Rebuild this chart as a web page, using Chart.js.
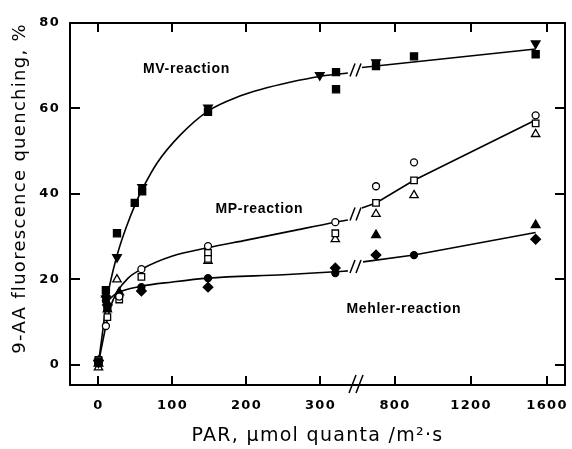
<!DOCTYPE html>
<html lang="en">
<head>
<meta charset="UTF-8">
<title>9-AA fluorescence quenching vs PAR</title>
<script src="https://cdn.jsdelivr.net/npm/chart.js@4.4.1/dist/chart.umd.min.js"></script>
<style>
  * { box-sizing: border-box; margin: 0; padding: 0; }
  body { background: #fff; }
  #chart { display: block; }
</style>
</head>
<body>
<canvas id="chart" width="572" height="449"></canvas>
<script>
// tick labels
const xTicksPAR = [0, 100, 200, 300, 800, 1200, 1600];
const yTicks = [0, 20, 40, 60, 80];

// MV-reaction (filled squares, filled down triangles)
const mvSquareX = [0, 10, 12, 25, 49, 59, 148, 321, 321, 700, 900, 1540];
const mvSquareY = [0.8, 17.5, 13.5, 30.8, 37.9, 40.6, 59.2, 68.5, 64.5, 69.9, 72.2, 72.7];
const mvTriX = [0, 10, 25, 59, 148, 299, 700, 1540];
const mvTriY = [0.5, 15.5, 25.2, 41.6, 60.2, 67.8, 70.8, 75.2];
const mvFitLeftX = [0, 5, 10, 15, 26, 37, 52, 60, 79, 110, 148, 191, 218, 260, 299, 337];
const mvFitLeftY = [0.5, 7, 13.5, 18.5, 26.2, 32, 38.5, 41.4, 47.2, 53.7, 59.4, 62.9, 64.4, 66.2, 67.5, 68.3];
const mvFitRightX = [626, 1540];
const mvFitRightY = [69.6, 73.9];

// MP-reaction (open circles, open squares, open triangles)
const mpCircleX = [0, 10, 28, 58, 148, 320, 700, 900, 1540];
const mpCircleY = [0.5, 9.1, 16.0, 22.4, 27.8, 33.4, 41.8, 47.4, 58.4];
const mpSquareX = [0, 12, 28, 58, 148, 148, 320, 700, 900, 1540];
const mpSquareY = [1.2, 11.2, 15.3, 20.6, 26.2, 24.8, 30.8, 37.9, 43.2, 56.5];
const mpTriX = [0, 12, 25, 148, 320, 700, 900, 1540];
const mpTriY = [-0.6, 13.0, 20.0, 24.3, 29.4, 35.3, 39.7, 54.0];
const mpFitLeftX = [0, 10, 16, 25, 40, 58, 100, 148, 200, 260, 320, 337];
const mpFitLeftY = [0.5, 9.1, 13.5, 17.0, 20.3, 22.4, 25.5, 27.4, 29.2, 31.3, 33.4, 33.9];
const mpFitRightX = [626, 700, 900, 1540];
const mpFitRightY = [36.7, 37.9, 43.2, 57.3];

// Mehler-reaction (filled circles, filled diamonds, filled triangles)
const mhCircleX = [0, 10, 28, 58, 148, 320, 900];
const mhCircleY = [0.5, 15.0, 16.0, 18.2, 20.3, 21.5, 25.7];
const mhDiamondX = [0, 12, 58, 148, 320, 700, 1540];
const mhDiamondY = [1.0, 14.0, 17.3, 18.2, 22.7, 25.7, 29.4];
const mhTriX = [0, 10, 28, 700, 1540];
const mhTriY = [0.3, 16.5, 17.0, 30.4, 32.7];
const mhFitLeftX = [12, 25, 58, 100, 148, 250, 320, 337];
const mhFitLeftY = [15.0, 16.8, 18.4, 19.4, 20.3, 21.1, 21.8, 22.0];
const mhFitRightX = [632, 900, 1540];
const mhFitRightY = [24.1, 25.7, 31.0];

// curve labels (axis units)
const labelText = ['MV-reaction', 'MP-reaction', 'Mehler-reaction'];
const labelX = [60, 158, 335];
const labelY = [68.2, 35.5, 12.1];
// y value of each curve at the axis break
const breakCurveY = [68.9, 35.2, 22.9];

// broken x axis: 0..350 linear, then 800..1600 compressed
function toAxis(par) {
  return par <= 350 ? par : 400.7 + (par - 800) * 0.2568;
}
const breakU = 348;

function pts(xs, ys) {
  return xs.map((v, i) => ({ x: toAxis(v), y: ys[i] }));
}

function markers(xs, ys, style, filled, radius, rotation) {
  return {
    data: pts(xs, ys),
    showLine: false,
    pointStyle: style,
    pointRadius: radius,
    pointRotation: rotation || 0,
    pointBackgroundColor: filled ? '#000' : '#fff',
    pointBorderColor: '#000',
    pointBorderWidth: 1.3,
    order: 1
  };
}

function curve(xs, ys, smooth) {
  return {
    data: pts(xs, ys),
    showLine: true,
    borderColor: '#000',
    borderWidth: 1.6,
    pointRadius: 0,
    cubicInterpolationMode: smooth ? 'monotone' : 'default',
    tension: 0,
    fill: false,
    order: 2
  };
}

const frame = {
  id: 'frame',
  beforeDraw(chart) {
    chart.ctx.letterSpacing = '1.3px';
  },
  afterDraw(chart) {
    const ctx = chart.ctx;
    const a = chart.chartArea;
    const sx = chart.scales.x;
    const sy = chart.scales.y;
    ctx.save();
    ctx.letterSpacing = '0px';
    ctx.strokeStyle = '#000';
    ctx.fillStyle = '#000';
    ctx.lineWidth = 2;
    ctx.strokeRect(a.left, a.top, a.right - a.left, a.bottom - a.top);

    // inward ticks on all four sides
    xTicksPAR.forEach(v => {
      const px = Math.round(sx.getPixelForValue(toAxis(v)));
      ctx.fillRect(px - 1, a.bottom - 9, 2, 9);
      ctx.fillRect(px - 1, a.top, 2, 9);
    });
    yTicks.forEach(v => {
      const py = Math.round(sy.getPixelForValue(v));
      ctx.fillRect(a.left, py - 1, 10, 2);
      ctx.fillRect(a.right - 10, py - 1, 10, 2);
    });

    // break marks on the axis and on the curves
    ctx.lineWidth = 1.5;
    const bx = sx.getPixelForValue(breakU);
    ctx.beginPath();
    ctx.moveTo(bx - 7, a.bottom + 8); ctx.lineTo(bx, a.bottom - 10);
    ctx.moveTo(bx, a.bottom + 8); ctx.lineTo(bx + 7, a.bottom - 10);
    breakCurveY.forEach(v => {
      const cy = sy.getPixelForValue(v);
      ctx.moveTo(bx - 6, cy + 6); ctx.lineTo(bx - 1, cy - 7);
      ctx.moveTo(bx, cy + 6); ctx.lineTo(bx + 5, cy - 7);
    });
    ctx.stroke();

    ctx.font = 'bold 14px "Liberation Sans", Arial, sans-serif';
    ctx.letterSpacing = '0.7px';
    ctx.textAlign = 'left';
    ctx.textBaseline = 'alphabetic';
    labelText.forEach((s, i) => {
      ctx.fillText(s, sx.getPixelForValue(labelX[i]), sy.getPixelForValue(labelY[i]));
    });
    ctx.restore();
  }
};

new Chart(document.getElementById('chart'), {
  type: 'scatter',
  data: {
    datasets: [
      curve(mvFitLeftX, mvFitLeftY, true),
      curve(mvFitRightX, mvFitRightY, false),
      curve(mpFitLeftX, mpFitLeftY, true),
      curve(mpFitRightX, mpFitRightY, false),
      curve(mhFitLeftX, mhFitLeftY, true),
      curve(mhFitRightX, mhFitRightY, false),
      markers(mvSquareX, mvSquareY, 'rect', true, 5),
      markers(mvTriX, mvTriY, 'triangle', true, 5, 180),
      markers(mpCircleX, mpCircleY, 'circle', false, 3.5),
      markers(mpSquareX, mpSquareY, 'rect', false, 4.6),
      markers(mpTriX, mpTriY, 'triangle', false, 4.8),
      markers(mhCircleX, mhCircleY, 'circle', true, 3.5),
      markers(mhDiamondX, mhDiamondY, 'rectRot', true, 4.8),
      markers(mhTriX, mhTriY, 'triangle', true, 5)
    ]
  },
  options: {
    responsive: false,
    animation: false,
    devicePixelRatio: 1,
    layout: { padding: { top: 23, right: 7, left: 0, bottom: 0 } },
    plugins: { legend: { display: false }, tooltip: { enabled: false } },
    scales: {
      x: {
        type: 'linear',
        min: -38.5,
        max: 630.4,
        afterBuildTicks: s => { s.ticks = xTicksPAR.map(v => ({ value: toAxis(v) })); },
        afterFit: s => { s.height = 64; s.paddingLeft = 0; s.paddingRight = 0; },
        grid: { display: false, drawTicks: false },
        border: { display: false },
        ticks: {
          color: '#000',
          padding: 13,
          maxRotation: 0,
          font: { family: '"DejaVu Sans"', size: 13, weight: 'bold' },
          callback: (v, i) => xTicksPAR[i]
        },
        title: {
          display: true,
          text: 'PAR, \u00b5mol quanta /m\u00b2\u00b7s',
          color: '#000',
          padding: { top: 0, bottom: 2 },
          font: { family: '"DejaVu Sans"', size: 19 }
        }
      },
      y: {
        min: -4.7,
        max: 80,
        afterBuildTicks: s => { s.ticks = yTicks.map(v => ({ value: v })); },
        afterFit: s => { s.width = 70; s.paddingTop = 0; s.paddingBottom = 0; },
        grid: { display: false, drawTicks: false },
        border: { display: false },
        ticks: {
          color: '#000',
          padding: 10,
          font: { family: '"DejaVu Sans"', size: 13, weight: 'bold' }
        },
        title: {
          display: true,
          text: '9-AA fluorescence quenching, %',
          align: 'end',
          color: '#000',
          padding: { top: 10, bottom: 0 },
          font: { family: '"DejaVu Sans"', size: 18 }
        }
      }
    }
  },
  plugins: [frame]
});
</script>
</body>
</html>
